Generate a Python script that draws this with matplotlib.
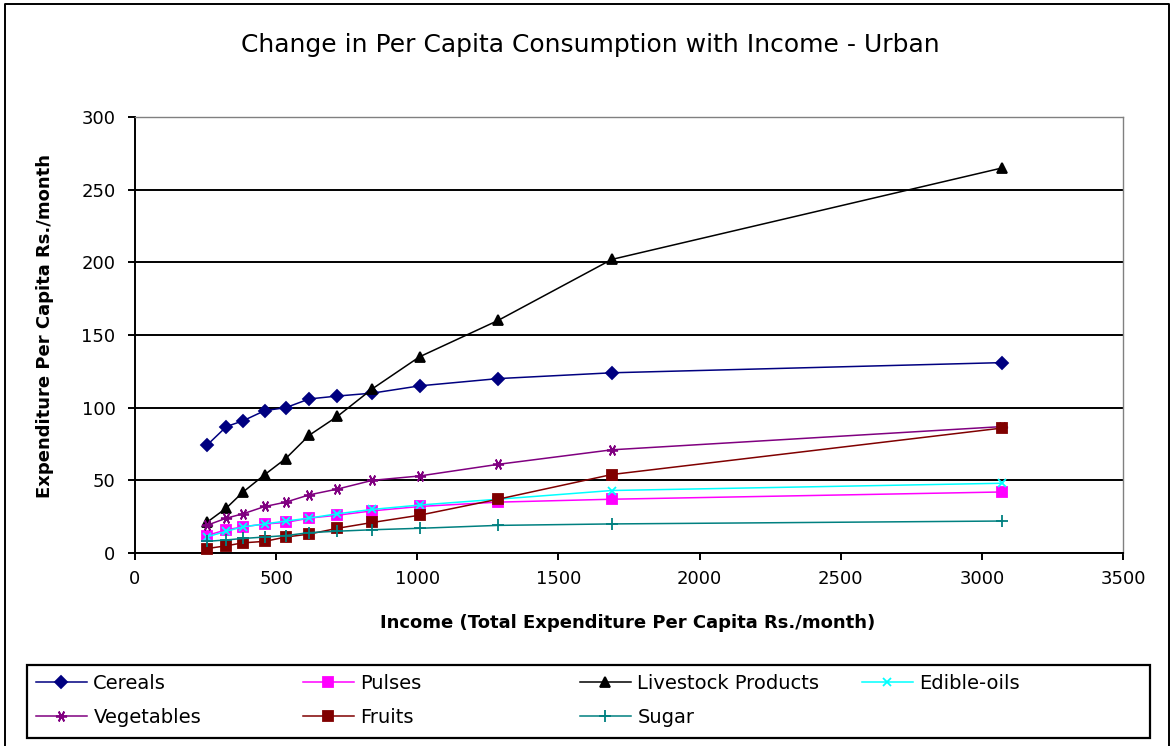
import matplotlib
matplotlib.use('Agg')
import matplotlib.pyplot as plt
from matplotlib.lines import Line2D

# Income classes (total expenditure per capita, Rs./month)
income      = [254, 324, 383, 460, 534, 617, 717, 841, 1008, 1286, 1689, 3073]
cereals     = [74, 87, 91, 98, 100, 106, 108, 110, 115, 120, 124, 131]
pulses      = [12, 16, 18, 20, 21, 24, 26, 29, 32, 35, 37, 42]
livestock   = [21, 31, 42, 54, 65, 81, 94, 113, 135, 160, 202, 265]
edible_oils = [11, 15, 18, 20, 22, 24, 27, 30, 33, 37, 43, 48]
vegetables  = [19, 24, 27, 32, 35, 40, 44, 50, 53, 61, 71, 87]
fruits      = [3, 5, 7, 8, 11, 13, 17, 21, 26, 37, 54, 86]
sugar       = [8, 9, 10, 11, 12, 14, 15, 16, 17, 19, 20, 22]

x_ticks = [0, 500, 1000, 1500, 2000, 2500, 3000, 3500]
y_ticks = [0, 50, 100, 150, 200, 250, 300]

plt.rcParams['font.family'] = ['DejaVu Sans']

fig = plt.figure(figsize=(11.71, 7.46), dpi=100)
fig.patch.set_facecolor('white')
ax = fig.add_axes([135/1171, 1-553/746, (1123-135)/1171, (553-117)/746])

series = [
    ('Cereals',            cereals,     '#000080', 'D', 6.5),
    ('Pulses',             pulses,      '#FF00FF', 's', 6.5),
    ('Livestock Products', livestock,   '#000000', '^', 7.5),
    ('Edible-oils',        edible_oils, '#00FFFF', 'x', 6),
    ('Vegetables',         vegetables,  '#800080', (6, 2, 90), 8),
    ('Fruits',             fruits,      '#800000', 's', 6.5),
    ('Sugar',              sugar,       '#008080', '+', 8),
]
handles = {}
for name, vals, col, mk, ms in series:
    ln, = ax.plot(income, vals, color=col, lw=1.1, marker=mk, ms=ms,
                  mew=1.3, mfc=col, mec=col, clip_on=False, zorder=3)
    handles[name] = ln

ax.set_xlim(0, 3500); ax.set_ylim(0, 300)
ax.set_xticks(x_ticks); ax.set_yticks(y_ticks)
ax.yaxis.grid(True, color='black', lw=1.4)
ax.set_axisbelow(True)
for s in ['left', 'bottom']:
    ax.spines[s].set_color('black'); ax.spines[s].set_linewidth(1.4)
for s in ['top', 'right']:
    ax.spines[s].set_color('#808080'); ax.spines[s].set_linewidth(1.0)
ax.tick_params(axis='both', direction='out', length=5, width=1.4, colors='black',
               labelsize=13)
ax.tick_params(axis='y', pad=9)
ax.tick_params(axis='x', pad=7)

fig.text(0.504, 1-45/746, 'Change in Per Capita Consumption with Income - Urban',
         ha='center', va='center', fontsize=18)
fig.text(628/1171, 1-623/746, 'Income (Total Expenditure Per Capita Rs./month)',
         ha='center', va='center', fontsize=13, fontweight='bold')
fig.text(45/1171, 1-326/746, 'Expenditure Per Capita Rs./month', rotation=90,
         ha='center', va='center', fontsize=13, fontweight='bold')

# legend: four columns laid out like the original
cols = [(36, ['Cereals', 'Vegetables']),
        (303, ['Pulses', 'Fruits']),
        (580, ['Livestock Products', 'Sugar']),
        (862, ['Edible-oils'])]
for x0, names in cols:
    fig.legend([handles[n] for n in names], names, loc='upper left',
               bbox_to_anchor=(x0/1171, 1-674/746), frameon=False,
               borderpad=0, borderaxespad=0, handlelength=2.6,
               handletextpad=0.35, labelspacing=0.75, fontsize=14)

fig.add_artist(plt.Rectangle((27/1171, 1-738/746), (1150-27)/1171, (738-665)/746,
                             transform=fig.transFigure, fill=False,
                             edgecolor='black', lw=1.6))
# outer chart border (left, top, right)
fig.add_artist(Line2D([5/1171, 5/1171, 1169/1171, 1169/1171],
                      [0, 1-4/746, 1-4/746, 0],
                      transform=fig.transFigure, color='black', lw=1.4))

fig.savefig('out.png', dpi=100, facecolor='white')
